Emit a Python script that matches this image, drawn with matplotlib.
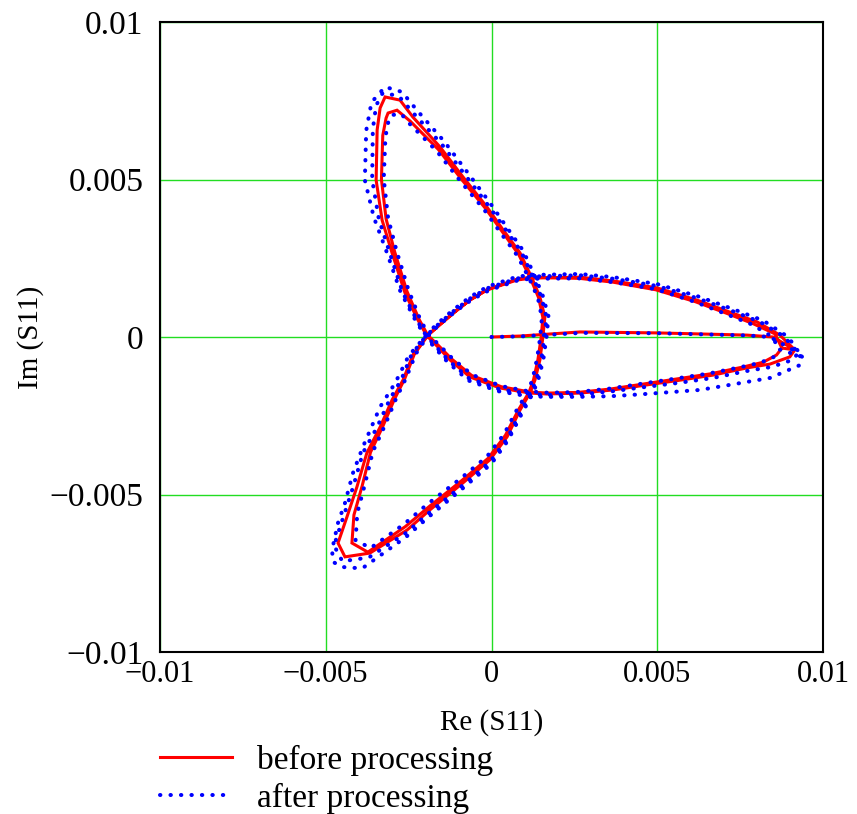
import numpy as np
import matplotlib.pyplot as plt

# S11 trajectory, values in units of 1e-3
re_before = [
    # start on the real axis
    0.0, 0.86, 2.67, 4.99, 7.71, 8.49,
    # first loop
    9.15, 9.00, 8.40, 7.71, 6.68, 5.69, 4.69, 3.67, 2.67, 1.67, 1.16, 0.26, -0.65, -1.25, -1.64, -1.95,
    -2.22, -2.61, -3.00, -3.30, -3.48, -3.45, -3.36, -3.21, -2.76, -2.37, -1.55, -0.86, -0.14, 0.35, 0.86, 1.22,
    1.46, 1.61, 1.55, 1.46, 1.31, 1.16,
    0.86, 0.47, -0.05, -0.86, -1.86, -2.55, -3.67, -4.42, -4.63,
    -4.36, -4.06, -3.76, -3.36, -3.00, -2.67, -2.37, -1.95,
    -1.64, -1.16, -0.65, -0.14, 0.77, 1.22, 2.67, 3.67, 4.99, 6.20, 7.19, 8.01, 8.70, 9.15,
    # second loop
    8.76, 8.60, 8.20, 7.60, 6.60, 5.60, 4.60, 3.60, 2.60, 1.70, 1.18, 0.30, -0.60, -1.20, -1.60, -1.92,
    -2.18, -2.55, -2.92, -3.18, -3.32, -3.28, -3.18, -3.12, -2.85, -2.45, -1.60, -0.90, -0.18, 0.32, 0.82, 1.18,
    1.42, 1.55, 1.50, 1.40, 1.27, 1.13,
    0.82, 0.42, -0.10, -0.90, -1.90, -2.60, -3.73, -4.21,
    -4.15, -3.90, -3.65, -3.28, -2.93, -2.62, -2.33, -1.92,
    -1.60, -1.12, -0.62, -0.10, 0.78, 1.20, 2.67, 3.67, 4.95, 6.15, 7.10, 7.90, 8.55, 8.76,
]
im_before = [
    0.0, 0.03, 0.16, 0.13, 0.06, 0.0,
    -0.41, -0.63, -0.86, -0.98, -1.21, -1.37, -1.52, -1.68, -1.78, -1.81, -1.78, -1.62, -1.27, -0.73, -0.29, 0.04,
    0.54, 1.40, 2.67, 3.71, 4.98, 6.57, 7.27, 7.62, 7.52, 6.98, 6.03, 5.08, 4.13, 3.40, 2.67, 1.87,
    1.27, 0.63, 0.0, -0.73, -1.37, -1.78,
    -2.32, -3.17, -3.90, -4.63, -5.49, -6.13, -6.86, -6.98, -6.54,
    -5.71, -4.76, -3.68, -2.86, -2.00, -1.37, -0.57, 0.04,
    0.32, 0.76, 1.17, 1.49, 1.81, 1.87, 1.90, 1.78, 1.56, 1.17, 0.79, 0.48, 0.06, -0.41,
    -0.35, -0.57, -0.80, -0.95, -1.17, -1.33, -1.49, -1.65, -1.76, -1.78, -1.75, -1.58, -1.22, -0.70, -0.27, 0.05,
    0.55, 1.45, 2.70, 3.75, 5.00, 6.40, 6.95, 7.11, 7.20, 6.85, 5.95, 5.00, 4.08, 3.35, 2.62, 1.85,
    1.25, 0.62, 0.0, -0.72, -1.35, -1.76,
    -2.30, -3.12, -3.85, -4.56, -5.40, -6.02, -6.83, -6.54,
    -5.65, -4.72, -3.66, -2.84, -1.98, -1.33, -0.55, 0.05,
    0.35, 0.78, 1.20, 1.52, 1.84, 1.90, 1.86, 1.74, 1.50, 1.12, 0.75, 0.42, 0.10, -0.35,
]

re_after = [
    0.0, 0.9, 2.7, 5.0, 7.7, 8.4,
    # loop 1
    9.25, 9.10, 8.45, 7.70, 6.68, 5.69, 4.69, 3.67, 2.67, 1.67, 1.16, 0.24, -0.68, -1.28, -1.67, -1.97,
    -2.26, -2.68, -3.08, -3.40, -3.60, -3.58, -3.48, -3.28, -2.80, -2.35, -1.50, -0.80, -0.10, 0.40, 0.90, 1.25,
    1.50, 1.66, 1.60, 1.50, 1.35, 1.18,
    0.88, 0.48, -0.04, -0.86, -1.88, -2.58, -3.70, -4.50, -4.75,
    -4.48, -4.18, -3.88, -3.45, -3.07, -2.72, -2.41, -1.97,
    -1.66, -1.17, -0.65, -0.12, 0.78, 1.25, 2.67, 3.67, 5.00, 6.24, 7.25, 8.10, 8.82, 9.25,
    # loop 2 (outer)
    9.37, 9.31, 8.40, 7.19, 6.29, 5.40, 4.50, 3.60, 2.60, 1.67, 1.10, 0.20, -0.70, -1.32, -1.72, -2.00,
    -2.32, -2.75, -3.18, -3.55, -3.82, -3.78, -3.62, -3.21, -2.70, -2.25, -1.42, -0.72, -0.04, 0.45, 0.95, 1.30,
    1.55, 1.72, 1.66, 1.56, 1.40, 1.22,
    0.92, 0.50, 0.00, -0.84, -1.86, -2.58, -3.88, -4.18, -4.51, -4.78, -4.81,
    -4.63, -4.42, -4.18, -3.88, -3.36, -2.90, -2.50, -2.00,
    -1.68, -1.18, -0.65, -0.12, 0.78, 1.28, 2.67, 3.67, 5.00, 6.26, 7.30, 8.20, 8.95, 9.37,
    # loop 3 (inner)
    8.70, 8.55, 8.10, 7.50, 6.55, 5.55, 4.55, 3.55, 2.55, 1.70, 1.15, 0.30, -0.58, -1.18, -1.58, -1.90,
    -2.15, -2.50, -2.86, -3.12, -3.25, -3.20, -3.10, -2.98, -2.72, -2.48, -1.65, -0.95, -0.22, 0.28, 0.78, 1.15,
    1.40, 1.52, 1.47, 1.37, 1.24, 1.10,
    0.78, 0.38, -0.14, -0.94, -1.95, -2.65, -3.65, -4.10,
    -4.05, -3.82, -3.58, -3.22, -2.88, -2.58, -2.28, -1.90,
    -1.58, -1.10, -0.60, -0.08, 0.80, 1.18, 2.67, 3.67, 4.95, 6.12, 7.05, 7.85, 8.45, 8.70,
]
im_after = [
    0.0, 0.02, 0.13, 0.12, 0.05, 0.0,
    -0.50, -0.72, -0.95, -1.08, -1.30, -1.45, -1.58, -1.72, -1.82, -1.84, -1.80, -1.66, -1.31, -0.76, -0.31, 0.04,
    0.55, 1.42, 2.70, 3.75, 5.00, 6.60, 7.35, 7.75, 7.65, 7.10, 6.12, 5.15, 4.18, 3.45, 2.70, 1.90,
    1.28, 0.63, 0.0, -0.73, -1.38, -1.80,
    -2.36, -3.22, -3.96, -4.70, -5.58, -6.22, -7.00, -7.12, -6.62,
    -5.75, -4.78, -3.68, -2.86, -1.98, -1.35, -0.55, 0.04,
    0.35, 0.80, 1.22, 1.55, 1.86, 1.92, 1.96, 1.85, 1.62, 1.22, 0.83, 0.48, 0.02, -0.50,
    -0.63, -0.89, -1.30, -1.52, -1.68, -1.75, -1.82, -1.88, -1.90, -1.90, -1.88, -1.72, -1.38, -0.80, -0.33, 0.02,
    0.58, 1.45, 2.75, 3.80, 4.98, 6.55, 7.45, 7.94, 7.78, 7.20, 6.20, 5.22, 4.25, 3.50, 2.75, 1.95,
    1.30, 0.65, 0.0, -0.74, -1.40, -1.84,
    -2.42, -3.28, -4.02, -4.78, -5.68, -6.35, -7.33, -7.33, -7.30, -7.14, -6.76,
    -5.90, -5.27, -4.32, -3.49, -2.22, -1.45, -0.60, 0.02,
    0.38, 0.84, 1.27, 1.60, 1.92, 1.97, 2.00, 1.90, 1.68, 1.28, 0.88, 0.52, 0.00, -0.63,
    -0.40, -0.62, -0.82, -0.96, -1.16, -1.32, -1.48, -1.64, -1.75, -1.77, -1.73, -1.56, -1.20, -0.68, -0.25, 0.07,
    0.56, 1.48, 2.72, 3.78, 5.02, 6.35, 6.90, 7.05, 7.08, 6.78, 5.90, 4.96, 4.04, 3.30, 2.58, 1.83,
    1.24, 0.61, 0.0, -0.71, -1.33, -1.74,
    -2.28, -3.08, -3.80, -4.50, -5.32, -5.95, -6.70, -6.45,
    -5.60, -4.68, -3.64, -2.82, -1.96, -1.31, -0.53, 0.07,
    0.38, 0.80, 1.18, 1.48, 1.80, 1.85, 1.86, 1.74, 1.52, 1.12, 0.74, 0.40, 0.02, -0.40,
]

ticks = [-0.01, -0.005, 0, 0.005, 0.01]
tick_labels = ['\u22120.01', '\u22120.005', '0', '0.005', '0.01']
legend_labels = ['before processing', 'after processing']

plt.rcParams['font.family'] = 'Liberation Serif'

fig = plt.figure(figsize=(8.57, 8.14), dpi=100)
ax = fig.add_axes([160 / 857, 1 - 652 / 814, 663 / 857, 630 / 814])

ax.plot(np.array(re_before) * 1e-3, np.array(im_before) * 1e-3,
        color='#ff0000', lw=2.2, solid_joinstyle='miter', label=legend_labels[0])
ax.plot(np.array(re_after) * 1e-3, np.array(im_after) * 1e-3,
        color='#0000ff', lw=2.9, linestyle=(0, (0.1, 2.5)), dash_capstyle='round',
        label=legend_labels[1])

ax.set_xlim(-0.01, 0.01)
ax.set_ylim(-0.01, 0.01)
ax.set_xticks(ticks, tick_labels)
ax.set_yticks(ticks, tick_labels)
ax.tick_params(length=0)
ax.tick_params(axis='x', pad=6, labelsize=22)
ax.tick_params(axis='y', pad=12, labelsize=24)

ax.set_axisbelow(True)
ax.grid(color='#22dd22', lw=1.0)
for s in ax.spines.values():
    s.set_linewidth(1.5)
    s.set_color('black')

ax.set_xlabel('Re (S11)', fontsize=21, labelpad=14)
ax.set_ylabel('Im (S11)', fontsize=21, labelpad=4)

fig.legend(loc='upper left', bbox_to_anchor=(160 / 857, 1 - 745 / 814),
           frameon=False, fontsize=24, handlelength=2.15, handletextpad=0.75,
           borderpad=0, borderaxespad=0, labelspacing=0.2)

plt.savefig('out.png', dpi=100)
